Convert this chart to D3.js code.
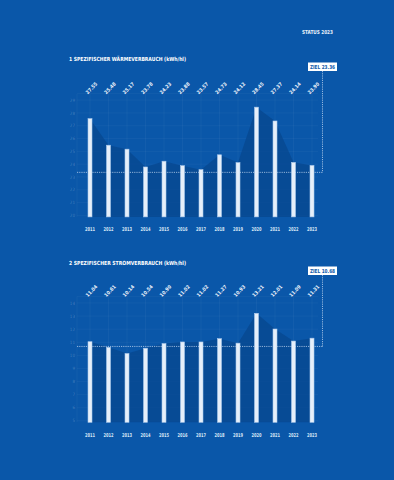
<!DOCTYPE html>
<html>
<head>
<meta charset="utf-8">
<script src="https://cdn.jsdelivr.net/npm/d3@7"></script>
<style>
  html, body { margin: 0; padding: 0; background: #0a57a9; }
  svg { display: block; }
</style>
</head>
<body>
<div id="chart"></div>
<script>
// === Data ===
const years = ['2011', '2012', '2013', '2014', '2015', '2016', '2017', '2018', '2019', '2020', '2021', '2022', '2023'];

const heatValues = [27.55, 25.48, 25.17, 23.78, 24.23, 23.88, 23.57, 24.73, 24.12, 28.45, 27.37, 24.14, 23.90];
const heatTarget = 23.36;
const heatTicks = [20, 21, 22, 23, 24, 25, 26, 27, 28, 29];

const powerValues = [11.04, 10.61, 10.14, 10.54, 10.90, 11.02, 11.02, 11.27, 10.93, 13.21, 12.01, 11.09, 11.31];
const powerTarget = 10.68;
const powerTicks = [5, 6, 7, 8, 9, 10, 11, 12, 13, 14];

const BG = '#0a57a9';
const AREA = '#0849986e';
const FONT = '"Liberation Sans Narrow", "DejaVu Sans Condensed", "Roboto", sans-serif';

const svg = d3.select('#chart').append('svg')
  .attr('width', 394).attr('height', 480)
  .style('font-family', FONT);

svg.append('rect').attr('width', 394).attr('height', 480).attr('fill', BG);

// Header
svg.append('text')
  .attr('x', 333).attr('y', 34)
  .attr('text-anchor', 'end')
  .attr('fill', '#e8f0fa')
  .attr('font-size', '5.5px').attr('font-weight', 700)
  .attr('textLength', 31).attr('lengthAdjust', 'spacingAndGlyphs')
  .text('STATUS 2023');

function drawChart(opts) {
  const { title, titleY, values, target, ticks, domain, top, bottom } = opts;
  const left = 77;
  const right = 322.5;

  const x = d3.scalePoint().domain(years).range([90, 312]);
  const y = d3.scaleLinear().domain(domain).range([bottom, top]);
  const base = bottom + 1.5;

  const g = svg.append('g');

  // Title
  g.append('text')
    .attr('x', 69).attr('y', titleY + 2)
    .attr('fill', '#ffffff')
    .attr('font-size', '5.6px').attr('font-weight', 700)
    .attr('textLength', 117).attr('lengthAdjust', 'spacingAndGlyphs')
    .text(title);

  // Grid
  const grid = g.append('g');
  for (const t of ticks.concat([domain[1]])) {
    grid.append('line')
      .attr('x1', left).attr('x2', 318)
      .attr('y1', y(t)).attr('y2', y(t))
      .attr('stroke', 'rgba(255,255,255,0.07)').attr('stroke-width', 0.6);
  }
  const vx = [left].concat(years.map(yr => x(yr)));
  for (const xv of vx) {
    grid.append('line')
      .attr('x1', xv).attr('x2', xv)
      .attr('y1', top).attr('y2', base)
      .attr('stroke', 'rgba(255,255,255,0.07)').attr('stroke-width', 0.6);
  }

  // Tick labels (very faint)
  for (const t of ticks) {
    g.append('text')
      .attr('x', 75).attr('y', y(t) + 1.6)
      .attr('text-anchor', 'end')
      .attr('fill', 'rgba(255,255,255,0.22)')
      .attr('font-size', '4.5px')
      .text(t);
  }

  // Shaded area under the bar tops
  const area = d3.area()
    .x((d, i) => x(years[i]))
    .y0(base)
    .y1(d => y(d));
  g.append('path')
    .datum(values)
    .attr('d', area)
    .attr('fill', '#07478f')
    .attr('fill-opacity', 0.75);

  // Target line
  const ty = y(target);
  g.append('line')
    .attr('x1', left).attr('x2', right)
    .attr('y1', ty).attr('y2', ty)
    .attr('stroke', '#cfe0f5').attr('stroke-width', 0.7)
    .attr('stroke-dasharray', '1.2,1');
  g.append('line')
    .attr('x1', right).attr('x2', right)
    .attr('y1', titleY + 12).attr('y2', ty)
    .attr('stroke', '#cfe0f5').attr('stroke-width', 0.7)
    .attr('stroke-dasharray', '1.2,1');

  // Target label
  g.append('rect')
    .attr('x', right - 14.5).attr('y', titleY + 3.5)
    .attr('width', 29).attr('height', 8.5)
    .attr('fill', '#ffffff');
  g.append('text')
    .attr('x', right).attr('y', titleY + 9.8)
    .attr('text-anchor', 'middle')
    .attr('fill', '#0a57a9')
    .attr('font-size', '5.5px').attr('font-weight', 700)
    .attr('textLength', 25).attr('lengthAdjust', 'spacingAndGlyphs')
    .text('ZIEL ' + target.toFixed(2));

  // Bars
  g.selectAll('rect.bar')
    .data(values)
    .join('rect')
    .attr('class', 'bar')
    .attr('x', (d, i) => x(years[i]) - 2)
    .attr('y', d => y(d))
    .attr('width', 4)
    .attr('height', d => base - y(d))
    .attr('fill', '#e6effa')
    .attr('stroke', '#a9c8ec')
    .attr('stroke-width', 0.6);

  // Value labels (rotated)
  const labelY = top - 5.5;
  g.selectAll('text.val')
    .data(values)
    .join('text')
    .attr('class', 'val')
    .attr('transform', (d, i) => `translate(${x(years[i]) + 1.5},${labelY}) rotate(-45)`)
    .attr('text-anchor', 'middle')
    .attr('dy', '0.35em')
    .attr('fill', '#eef4fc')
    .attr('font-size', '5px').attr('font-weight', 700)
    .text(d => d.toFixed(2));

  // Year labels
  g.selectAll('text.year')
    .data(years)
    .join('text')
    .attr('class', 'year')
    .attr('x', d => x(d))
    .attr('y', base + 14.5)
    .attr('text-anchor', 'middle')
    .attr('fill', '#dbe7f7')
    .attr('font-size', '5.3px').attr('font-weight', 700)
    .attr('textLength', 10).attr('lengthAdjust', 'spacingAndGlyphs')
    .text(d => d);
}

drawChart({
  title: '1 SPEZIFISCHER WÄRMEVERBRAUCH (kWh/hl)',
  titleY: 59,
  values: heatValues,
  target: heatTarget,
  ticks: heatTicks,
  domain: [20, 29.5],
  top: 93.7,
  bottom: 215.4
});

drawChart({
  title: '2 SPEZIFISCHER STROMVERBRAUCH (kWh/hl)',
  titleY: 263,
  values: powerValues,
  target: powerTarget,
  ticks: powerTicks,
  domain: [5, 14.5],
  top: 296.4,
  bottom: 420.8
});
</script>
</body>
</html>
